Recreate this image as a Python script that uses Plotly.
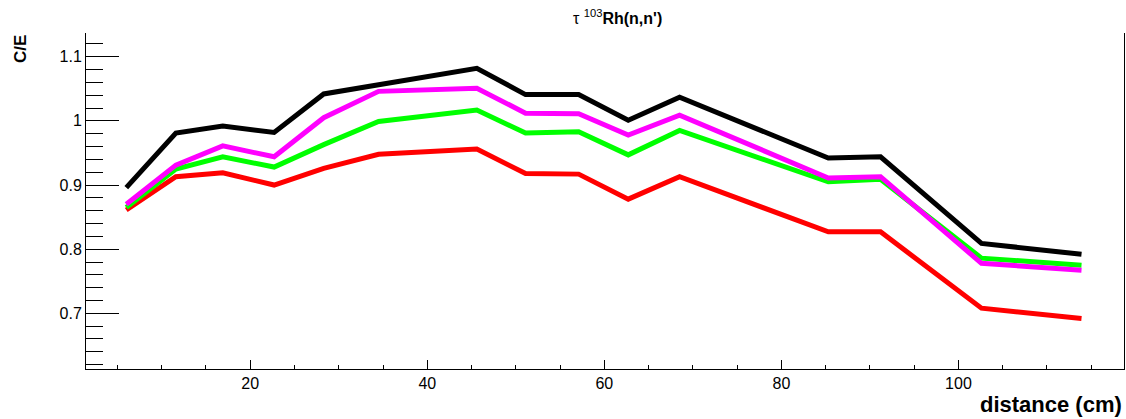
import plotly.graph_objects as go

# distance from source (cm)
distance = [6.0, 11.6, 16.9, 22.7, 28.3, 34.5, 45.6, 51.1, 57.1, 62.7, 68.5, 85.3, 91.2, 102.6, 113.9]

# C/E ratios for the four calculations
ce_red = [0.861, 0.913, 0.919, 0.900, 0.926, 0.948, 0.956, 0.918, 0.917, 0.878, 0.913, 0.827, 0.827, 0.708, 0.692]
ce_green = [0.865, 0.925, 0.944, 0.928, 0.963, 0.999, 1.017, 0.981, 0.983, 0.947, 0.985, 0.905, 0.909, 0.786, 0.775]
ce_magenta = [0.870, 0.931, 0.961, 0.944, 1.005, 1.046, 1.051, 1.012, 1.011, 0.978, 1.009, 0.911, 0.913, 0.778, 0.767]
ce_black = [0.896, 0.981, 0.992, 0.982, 1.042, 1.056, 1.082, 1.041, 1.041, 1.001, 1.037, 0.942, 0.944, 0.809, 0.792]

x_ticks = [20, 40, 60, 80, 100]
y_ticks = [0.7, 0.8, 0.9, 1.0, 1.1]
y_tick_text = ["0.7", "0.8", "0.9", "1", "1.1"]

series = [
    (ce_red, "#ff0000"),
    (ce_green, "#00ff00"),
    (ce_magenta, "#ff00ff"),
    (ce_black, "#000000"),
]

fig = go.Figure()
for values, color in series:
    fig.add_trace(go.Scatter(
        x=distance, y=values, mode="lines",
        line=dict(color=color, width=5),
        showlegend=False, hoverinfo="skip",
    ))

font_family = "Liberation Sans, Arial, sans-serif"

fig.update_layout(
    width=1126, height=419,
    margin=dict(l=86, r=2, t=33, b=50),
    paper_bgcolor="white", plot_bgcolor="white",
    font=dict(family=font_family, color="black"),
    xaxis=dict(
        range=[1.45, 118.7],
        tickvals=x_ticks, ticktext=[str(v) for v in x_ticks],
        ticks="inside", ticklen=9, tickwidth=1, tickcolor="black",
        minor=dict(dtick=5, tick0=0, ticks="inside", ticklen=4, tickwidth=1, tickcolor="black"),
        showline=True, linecolor="black", linewidth=1, mirror=False,
        showgrid=False, zeroline=False,
        tickfont=dict(size=16),
    ),
    yaxis=dict(
        range=[0.6132, 1.137],
        tickvals=y_ticks, ticktext=y_tick_text,
        ticks="inside", ticklen=33, tickwidth=1, tickcolor="black",
        minor=dict(dtick=0.02, tick0=0, ticks="inside", ticklen=17, tickwidth=1, tickcolor="black"),
        showline=True, linecolor="black", linewidth=1, mirror=True,
        showgrid=False, zeroline=False,
        tickfont=dict(size=16),
    ),
    annotations=[
        dict(text="τ <sup>103</sup><b>Rh(n,n')</b>", xref="paper", yref="paper",
             x=0.5125, y=1.0, yshift=4, xanchor="center", yanchor="bottom",
             showarrow=False, font=dict(size=16)),
        dict(text="<b>C/E</b>", xref="paper", yref="paper",
             x=0, xshift=-66, y=1.0, xanchor="center", yanchor="top",
             textangle=-90, showarrow=False, font=dict(size=17)),
        dict(text="<b>distance (cm)</b>", xref="paper", yref="paper",
             x=1.0, y=0, yshift=-21, xanchor="right", yanchor="top",
             showarrow=False, font=dict(size=22)),
    ],
)

fig.write_html("out.html")
